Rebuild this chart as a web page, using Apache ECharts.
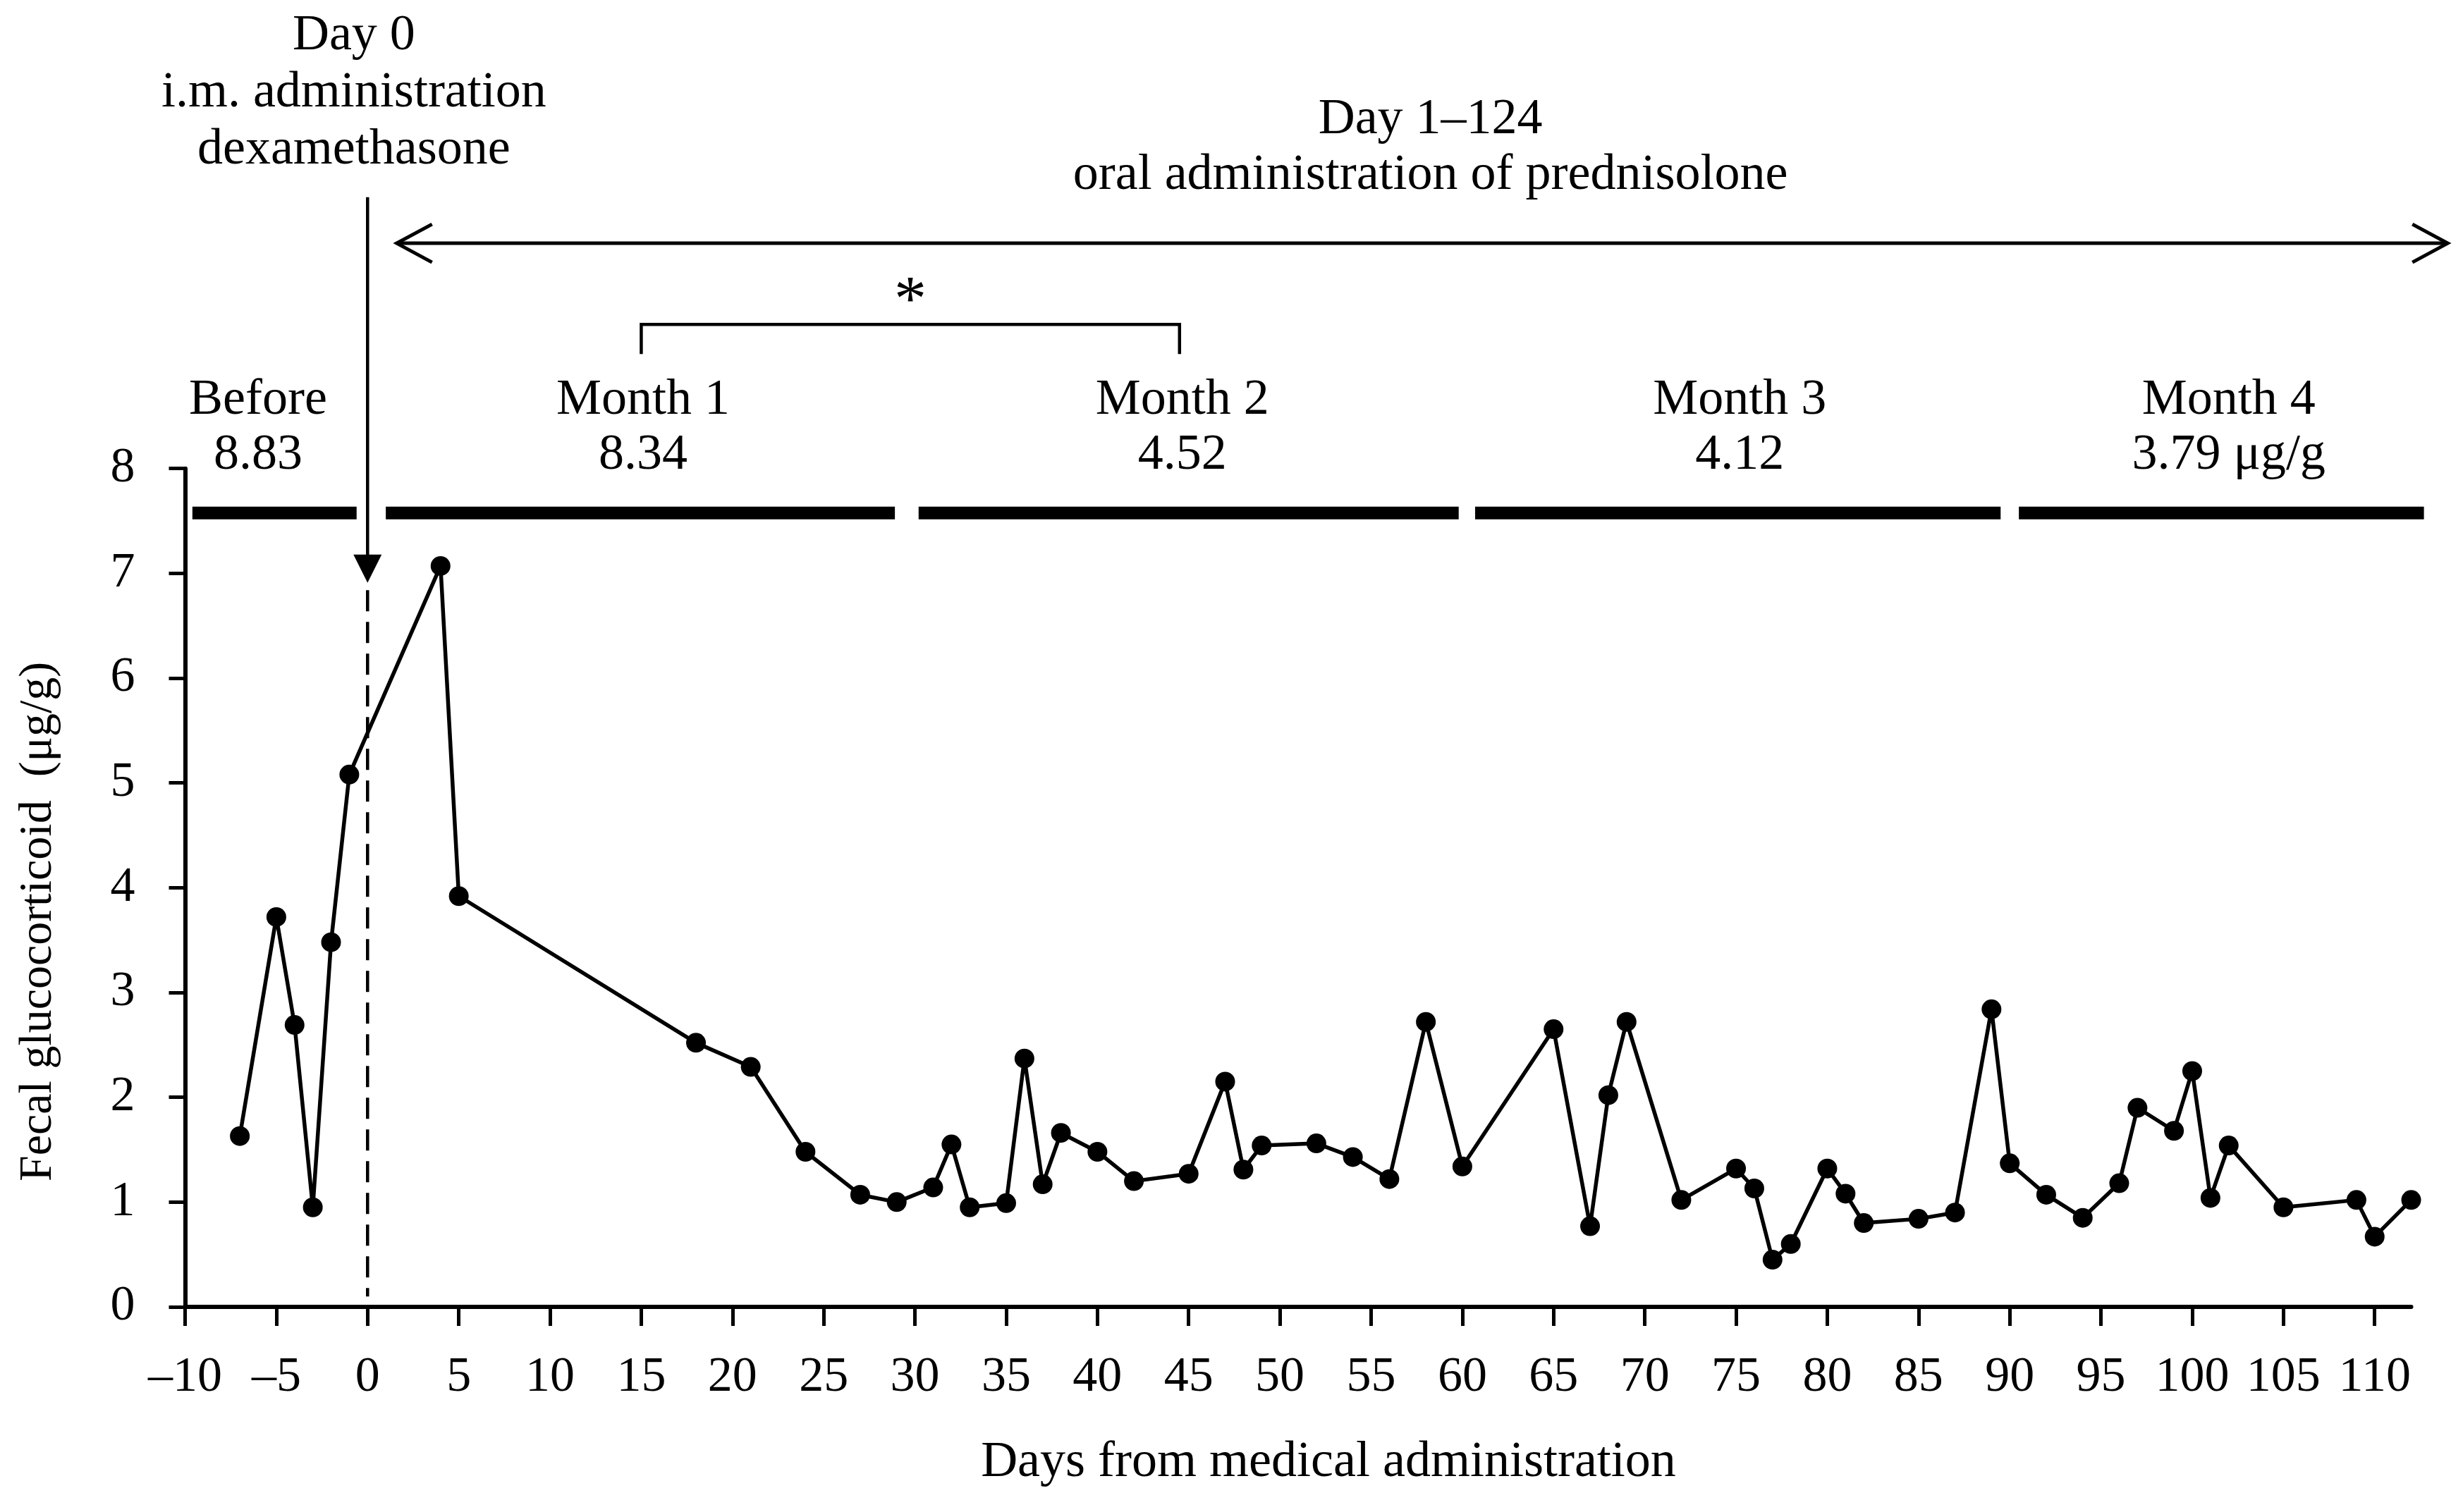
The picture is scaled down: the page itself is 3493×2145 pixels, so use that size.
<!DOCTYPE html>
<html><head><meta charset="utf-8">
<script src="https://cdn.jsdelivr.net/npm/echarts@6/dist/echarts.min.js"></script>
<style>html,body{margin:0;padding:0;background:#fff}#c{width:3493px;height:2145px}</style>
</head><body><div id="c"></div>
<script>
const days = [-7,-5,-4,-3,-2,-1,4,5,18,21,24,27,29,31,32,33,35,36,37,38,40,42,45,47,48,49,52,54,56,58,60,65,67,68,69,72,75,76,77,78,80,81,82,85,87,89,90,92,94,96,97,99,100,101,102,105,109,110,112];
const glucocorticoid = [1.63,3.72,2.69,0.95,3.48,5.08,7.07,3.92,2.52,2.29,1.48,1.07,1.00,1.14,1.55,0.95,0.99,2.37,1.17,1.66,1.48,1.20,1.27,2.15,1.31,1.54,1.56,1.43,1.22,2.72,1.34,2.65,0.77,2.02,2.72,1.02,1.32,1.13,0.45,0.60,1.32,1.08,0.80,0.84,0.90,2.84,1.37,1.07,0.85,1.18,1.90,1.68,2.25,1.04,1.54,0.95,1.02,0.67,1.02];
const xTicks = [-10,-5,0,5,10,15,20,25,30,35,40,45,50,55,60,65,70,75,80,85,90,95,100,105,110];
const yTicks = [0,1,2,3,4,5,6,7,8];
const periodNames = ['Before','Month 1','Month 2','Month 3','Month 4'];
const periodMeans = ['8.83','8.34','4.52','4.12','3.79 μg/g'];
const periodStart = [-9.6, 1.0, 30.2, 60.7, 90.5];
const periodEnd = [-0.6, 28.9, 59.8, 89.5, 112.7];
const periodLabelX = [-6.0, 15.1, 44.65, 75.2, 102.0];
const dexText = 'Day 0\ni.m. administration\ndexamethasone';
const dexDay = 0;
const predText = 'Day 1–124\noral administration of prednisolone';
const predRange = [1.6, 114];
const sigRange = [15, 44.5];
const sigMark = '*';

const FF = '"Liberation Serif", "Times New Roman", serif';
const chart = echarts.init(document.getElementById('c'), null, {renderer:'canvas'});

function renderAnno(params, api) {
  const ch = [];
  const c = (x, y) => api.coord([x, y]);
  const barY = 7.576;
  for (let i = 0; i < periodNames.length; i++) {
    const a = c(periodStart[i], barY), b = c(periodEnd[i], barY);
    ch.push({type:'rect', shape:{x:a[0], y:a[1]-9, width:b[0]-a[0], height:18}, style:{fill:'#000'}});
    const t = c(periodLabelX[i], 8.39);
    ch.push({type:'text', style:{text: periodNames[i] + '\n' + periodMeans[i], x:t[0], y:t[1], align:'center', verticalAlign:'middle', fontSize:72, fontFamily:FF, fill:'#000', lineHeight:78}});
  }
  // down arrow at day 0
  const top = c(dexDay, 10.59), tip = c(dexDay, 6.91);
  ch.push({type:'line', shape:{x1:top[0], y1:top[1], x2:tip[0], y2:tip[1]-30}, style:{stroke:'#000', lineWidth:4.5}});
  ch.push({type:'polygon', shape:{points:[[tip[0]-20, tip[1]-40],[tip[0]+20, tip[1]-40],[tip[0], tip[1]]]}, style:{fill:'#000'}});
  const d1 = c(dexDay, 6.84), d2 = c(dexDay, 0.1);
  ch.push({type:'line', shape:{x1:d1[0], y1:d1[1], x2:d2[0], y2:d2[1]}, style:{stroke:'#000', lineWidth:4.5, lineDash:[30,15]}});
  const dt = c(-0.75, 11.58);
  ch.push({type:'text', style:{text: dexText, x:dt[0], y:dt[1], align:'center', verticalAlign:'middle', fontSize:72, fontFamily:FF, fill:'#000', lineHeight:81}});
  // double arrow
  const l = c(predRange[0], 10.15), r = c(predRange[1], 10.15);
  ch.push({type:'line', shape:{x1:l[0], y1:l[1], x2:r[0], y2:r[1]}, style:{stroke:'#000', lineWidth:5}});
  ch.push({type:'polyline', shape:{points:[[l[0]+50, l[1]-27],[l[0], l[1]],[l[0]+50, l[1]+27]]}, style:{stroke:'#000', lineWidth:5, fill:null}});
  ch.push({type:'polyline', shape:{points:[[r[0]-50, r[1]-27],[r[0], r[1]],[r[0]-50, r[1]+27]]}, style:{stroke:'#000', lineWidth:5, fill:null}});
  const pt = c((predRange[0] + predRange[1]) / 2 + 0.45, 11.06);
  ch.push({type:'text', style:{text: predText, x:pt[0], y:pt[1], align:'center', verticalAlign:'middle', fontSize:72, fontFamily:FF, fill:'#000', lineHeight:79}});
  // significance bracket
  const s1 = c(sigRange[0], 9.093), s2 = c(sigRange[0], 9.375), s3 = c(sigRange[1], 9.375), s4 = c(sigRange[1], 9.093);
  ch.push({type:'polyline', shape:{points:[s1, s2, s3, s4]}, style:{stroke:'#000', lineWidth:4.5, fill:null}});
  const st = c((sigRange[0] + sigRange[1]) / 2, 9.69);
  ch.push({type:'text', style:{text: sigMark, x:st[0], y:st[1]+16, align:'center', verticalAlign:'middle', fontSize:92, fontFamily:FF, fill:'#000'}});
  return {type:'group', children: ch};
}

chart.setOption({
  animation: false,
  backgroundColor: '#fff',
  grid: {left: 262.5, right: 73.5, top: 664.7, bottom: 291, containLabel: false},
  xAxis: {
    type: 'value', min: -10, max: 112, interval: 5,
    name: 'Days from medical administration', nameLocation: 'middle', nameGap: 185,
    nameTextStyle: {fontSize: 72, fontFamily: FF, color: '#000', padding: [0, 0, 0, 86]},
    axisLine: {show: true, onZero: false, lineStyle: {color: '#000', width: 6}},
    axisTick: {show: true, length: 27, lineStyle: {color: '#000', width: 5}, customValues: xTicks},
    axisLabel: {customValues: xTicks, fontSize: 70, fontFamily: FF, color: '#000', margin: 66,
      formatter: v => v < 0 ? '–' + Math.abs(v) : String(v)},
    splitLine: {show: false}
  },
  yAxis: {
    type: 'value', min: 0, max: 8, interval: 1,
    name: 'Fecal glucocorticoid  (μg/g)', nameLocation: 'middle', nameGap: 175,
    nameTextStyle: {fontSize: 66, fontFamily: FF, color: '#000', padding: [0, 96, 0, 0]},
    axisLine: {show: true, onZero: false, lineStyle: {color: '#000', width: 6}},
    axisTick: {show: true, length: 23, lineStyle: {color: '#000', width: 5}, customValues: yTicks},
    axisLabel: {customValues: yTicks, fontSize: 70, fontFamily: FF, color: '#000', margin: 71},
    splitLine: {show: false}
  },
  series: [
    {
      type: 'line', data: days.map((d, i) => [d, glucocorticoid[i]]),
      symbol: 'circle', symbolSize: 28, showAllSymbol: true,
      lineStyle: {color: '#000', width: 5.5}, itemStyle: {color: '#000'},
      z: 5, silent: true
    },
    {
      type: 'custom', coordinateSystem: 'cartesian2d', data: [[0, 0]],
      renderItem: renderAnno, clip: false, silent: true, z: 6
    }
  ]
});
</script></body></html>
